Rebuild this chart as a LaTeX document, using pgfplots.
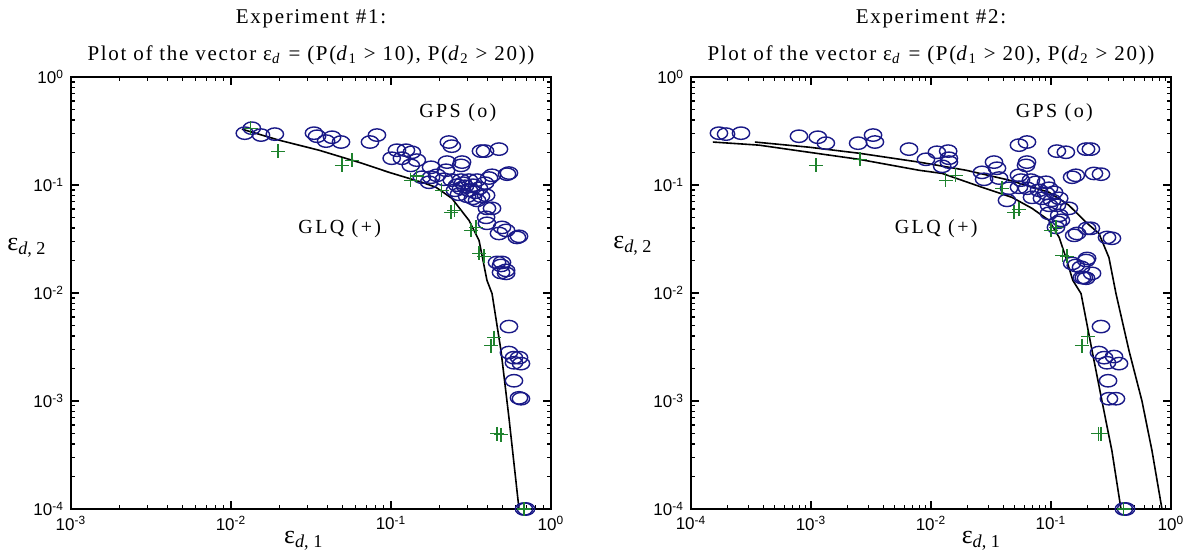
\documentclass[border=0pt]{standalone}
\usepackage{fontspec}
\setmainfont{Liberation Serif}
\newfontfamily\ticksf{Liberation Sans}
\usepackage{pgfplots}
\pgfplotsset{compat=1.18}

\definecolor{gpsblue}{RGB}{25,25,135}
\definecolor{glqgreen}{RGB}{30,130,45}

\newcommand{\ttl}{\fontsize{10.5pt}{12pt}\selectfont\addfontfeatures{LetterSpace=8}}
\newcommand{\annot}{\fontsize{10pt}{12pt}\selectfont\addfontfeatures{LetterSpace=12}}
\newcommand{\lbl}{\fontsize{13pt}{15pt}\selectfont}

\pgfplotsset{
  log number format basis/.code 2 args={10\textsuperscript{\pgfmathparse{int(#2)}\pgfmathresult}},
  panel/.style={
    scale only axis,
    width=240pt, height=216pt,
    ymin=1e-4, ymax=1,
    tick label style={font=\ticksf\fontsize{8.5pt}{10pt}\selectfont},
    axis line style={line width=1pt},
    major tick length=4pt, minor tick length=2.2pt,
    every tick/.style={black, line width=0.55pt},
    clip=false,
  },
  gps/.style={only marks, mark=o, mark size=3.1pt, color=gpsblue, line width=0.7pt, mark options={xscale=1.4}},
  glq/.style={only marks, mark=+, mark size=3.5pt, color=glqgreen, line width=0.6pt},
  curve/.style={black, line width=0.8pt, mark=none},
}

\begin{document}
\begin{tikzpicture}
\useasboundingbox (0,0) rectangle (594.5pt,275.5pt);

% Experiment 1
\begin{loglogaxis}[panel, at={(35.5pt,21pt)}, anchor=south west, xmin=1e-3, xmax=1]
\addplot[curve] coordinates {
(0.0117,0.329) (0.020,0.260) (0.0355,0.210) (0.0659,0.159) (0.0972,0.131)
(0.156,0.106) (0.191,0.0953) (0.240,0.0753) (0.307,0.0471) (0.355,0.0307)
(0.398,0.0131) (0.428,0.00989) (0.487,0.00292) (0.546,0.0007) (0.631,0.0001)
};
\addplot[gps] coordinates {
(0.0122,0.302) (0.0135,0.336) (0.0154,0.290) (0.0188,0.296) (0.0330,0.302)
(0.0345,0.283) (0.0393,0.255) (0.0428,0.277) (0.0487,0.250) (0.0739,0.250)
(0.0817,0.290) (0.109,0.210) (0.124,0.210) (0.135,0.201) (0.101,0.177)
(0.117,0.177) (0.133,0.152) (0.145,0.170) (0.178,0.146) (0.230,0.250)
(0.240,0.229) (0.365,0.206) (0.387,0.206) (0.473,0.215) (0.178,0.118)
(0.194,0.123) (0.221,0.137) (0.224,0.163) (0.274,0.152) (0.278,0.163)
(0.214,0.113) (0.240,0.111) (0.274,0.111) (0.307,0.111) (0.345,0.111)
(0.410,0.116) (0.428,0.123) (0.531,0.126) (0.546,0.129) (0.259,0.0996)
(0.274,0.0933) (0.290,0.0973) (0.307,0.0893) (0.325,0.0996) (0.335,0.0857)
(0.355,0.0933) (0.266,0.0820) (0.299,0.0787) (0.325,0.0753) (0.365,0.0787)
(0.345,0.0721) (0.282,0.104) (0.387,0.104) (0.251,0.0893) (0.393,0.0804)
(0.398,0.0608) (0.428,0.0608) (0.393,0.0502) (0.398,0.0442) (0.494,0.0405)
(0.473,0.0356) (0.524,0.0380) (0.613,0.0327) (0.631,0.0335) (0.460,0.0192)
(0.494,0.0192) (0.487,0.0155) (0.524,0.0152) (0.487,0.0180) (0.524,0.0162)
(0.546,0.00489) (0.546,0.00281) (0.587,0.00252) (0.631,0.00252) (0.587,0.00226)
(0.649,0.00222) (0.587,0.00154) (0.631,0.00107) (0.649,0.00105) (0.698,0.0001)
(0.678,0.0001) (0.173,0.106) (0.156,0.118)
};
\addplot[glq] coordinates {
(0.0133,0.336) (0.0197,0.206) (0.0494,0.152) (0.0570,0.170) (0.133,0.111)
(0.145,0.121) (0.208,0.0894) (0.237,0.0558) (0.248,0.0583) (0.316,0.038)
(0.340,0.0405) (0.355,0.0233) (0.381,0.0218) (0.440,0.00386) (0.422,0.00326)
(0.46,0.000497) (0.487,0.000486) (0.678,0.0001)
};
\node[font=\ttl] at (rel axis cs:0.5,1) [yshift=29pt] {Experiment \#1:};
\node[font=\ttl] at (rel axis cs:0.5,1) [yshift=11pt] {Plot of the vector ε\textsubscript{\textit{d}} = (P(\textit{d}\textsubscript{1} > 10), P(\textit{d}\textsubscript{2} > 20))};
\node[font=\annot] at (rel axis cs:0.806,0.917) {GPS (o)};
\node[font=\annot] at (rel axis cs:0.560,0.650) {GLQ (+)};
\node[font=\lbl] at (rel axis cs:0,0.604) [xshift=-22pt] {ε\textsubscript{\textit{d}, 2}};
\node[font=\lbl] at (rel axis cs:0.485,0) [yshift=-16pt] {ε\textsubscript{\textit{d}, 1}};
\end{loglogaxis}

% Experiment 2
\begin{loglogaxis}[panel, at={(345.5pt,21pt)}, anchor=south west, xmin=1e-4, xmax=1]
\addplot[curve] coordinates {
(1.52e-4,0.250) (3.69e-4,0.234) (9.62e-4,0.201) (2.51e-3,0.173) (7.94e-3,0.137)
(0.0124,0.128) (0.0266,0.0953) (0.0473,0.0769) (0.0695,0.0608) (0.0962,0.0471)
(0.117,0.0327) (0.133,0.0213) (0.152,0.0131) (0.178,0.00989) (0.220,0.00292)
(0.266,0.001) (0.322,0.000345) (0.383,0.0001)
};
\addplot[curve] coordinates {
(3.41e-4,0.250) (9.62e-4,0.224) (2.51e-3,0.197) (7.94e-3,0.163) (0.0196,0.137)
(0.0447,0.111) (0.0962,0.0857) (0.141,0.0649) (0.196,0.0451) (0.251,0.0356)
(0.304,0.0213) (0.348,0.00989) (0.447,0.00292) (0.573,0.001) (0.695,0.000345)
(0.841,0.0001)
};
\addplot[gps] coordinates {
(1.71e-4,0.302) (1.96e-4,0.296) (2.61e-4,0.302) (7.94e-4,0.283) (1.14e-3,0.277)
(1.33e-3,0.244) (2.47e-3,0.244) (3.29e-3,0.290) (3.41e-3,0.250) (6.56e-3,0.215)
(9.08e-3,0.173) (0.0112,0.201) (0.0139,0.206) (0.0141,0.177) (0.0141,0.163)
(0.0124,0.149) (0.0266,0.131) (0.0335,0.163) (0.0355,0.143) (0.0277,0.113)
(0.0369,0.116) (0.0541,0.234) (0.0631,0.250) (0.0631,0.163) (0.0619,0.152)
(0.0541,0.123) (0.0562,0.111) (0.0681,0.111) (0.0447,0.0933) (0.0430,0.0721)
(0.0541,0.0953) (0.0631,0.0933) (0.075,0.106) (0.0794,0.0894) (0.0908,0.106)
(0.0962,0.0933) (0.0908,0.0837) (0.106,0.0857) (0.0695,0.0769) (0.0841,0.0753)
(0.102,0.0721) (0.117,0.0753) (0.0962,0.0649) (0.112,0.0649) (0.141,0.0608)
(0.0962,0.0547) (0.117,0.0524) (0.121,0.0471) (0.114,0.0451) (0.110,0.0405)
(0.112,0.206) (0.133,0.201) (0.196,0.215) (0.215,0.215) (0.150,0.118)
(0.161,0.123) (0.228,0.128) (0.261,0.126) (0.156,0.0342) (0.165,0.0356)
(0.200,0.0397) (0.215,0.0397) (0.293,0.0327) (0.322,0.0321) (0.161,0.0180)
(0.196,0.0200) (0.178,0.0173) (0.220,0.0152) (0.188,0.0139) (0.150,0.0188)
(0.200,0.0209) (0.181,0.0139) (0.196,0.0137) (0.261,0.00489) (0.251,0.00281)
(0.277,0.00252) (0.335,0.00258) (0.293,0.00226) (0.369,0.00222) (0.299,0.00154)
(0.304,0.00105) (0.348,0.00105) (0.405,0.0001) (0.422,0.0001)
};
\addplot[glq] coordinates {
(1.10e-3,0.152) (2.56e-3,0.173) (0.0133,0.111) (0.0161,0.123) (0.0391,0.0933)
(0.0492,0.0558) (0.0541,0.0596) (0.1,0.038) (0.110,0.0405) (0.124,0.0223)
(0.136,0.0218) (0.203,0.00394) (0.181,0.00326) (0.247,0.000497) (0.261,0.000497)
(0.405,0.0001)
};
\node[font=\ttl] at (rel axis cs:0.5,1) [yshift=29pt] {Experiment \#2:};
\node[font=\ttl] at (rel axis cs:0.5,1) [yshift=11pt] {Plot of the vector ε\textsubscript{\textit{d}} = (P(\textit{d}\textsubscript{1} > 20), P(\textit{d}\textsubscript{2} > 20))};
\node[font=\annot] at (rel axis cs:0.757,0.917) {GPS (o)};
\node[font=\annot] at (rel axis cs:0.511,0.650) {GLQ (+)};
\node[font=\lbl] at (rel axis cs:0,0.61) [xshift=-29pt] {ε\textsubscript{\textit{d}, 2}};
\node[font=\lbl] at (rel axis cs:0.605,0) [yshift=-16pt] {ε\textsubscript{\textit{d}, 1}};
\end{loglogaxis}
\end{tikzpicture}
\end{document}
